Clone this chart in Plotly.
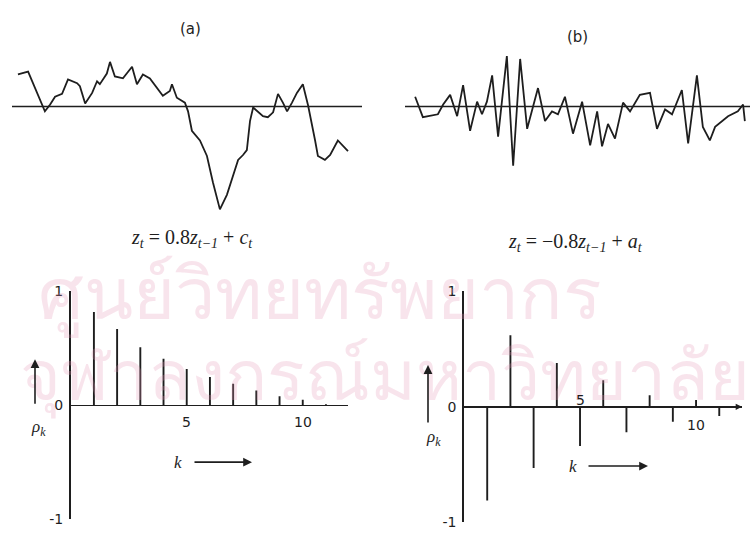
import plotly.graph_objects as go

W, H = 750, 541

# ---------------- data ----------------
# (a) z_t = 0.8 z_{t-1} + c_t : time index and value
t_a = [1.7, 4.6, 9.4, 10.9, 12.3, 14.3, 16.0, 18.6, 19.4, 20.9, 22.9, 24.3, 25.1, 27.1,
       28.0, 29.4, 31.7, 34.3, 35.7, 37.4, 39.4, 41.4, 43.1, 45.1, 45.7, 47.1, 49.4, 50.3,
       51.4, 53.7, 55.7, 57.4, 59.4, 61.4, 63.1, 64.6, 66.0, 67.1, 68.0, 68.9, 71.7, 73.1,
       74.6, 76.0, 77.4, 78.6, 80.0, 81.4, 83.1, 84.6, 86.6, 87.4, 89.4, 90.9, 93.1, 96.0]
z_a = [3.3, 3.6, -0.5, 0.2, 1.0, 1.3, 2.8, 2.4, 2.1, 0.3, 1.4, 2.6, 2.3, 3.4,
       4.6, 3.1, 2.9, 4.1, 2.3, 3.3, 2.9, 1.9, 1.1, 1.6, 2.3, 0.9, 0.4, -0.5,
       -2.5, -3.5, -5.1, -7.8, -10.6, -9.1, -7.1, -5.5, -5.0, -4.5, -1.5, -0.1, -1.0, -1.1,
       -0.6, 1.3, 0.4, -0.5, 0.4, 1.4, 2.3, 0.1, -3.5, -5.1, -5.5, -5.0, -3.5, -4.6]

# (b) z_t = -0.8 z_{t-1} + a_t
t_b = [2.9, 5.1, 9.4, 10.9, 12.9, 14.9, 16.6, 18.6, 20.6, 22.0, 23.4, 24.9, 26.6, 29.1,
       30.9, 32.9, 34.9, 38.0, 40.0, 42.0, 43.7, 45.7, 48.0, 50.6, 52.9, 54.9, 56.3, 58.0,
       60.0, 62.3, 64.3, 67.1, 70.0, 72.0, 74.3, 76.3, 79.1, 80.9, 83.4, 85.1, 87.1, 88.6,
       92.3, 95.1, 96.6, 97.1]
z_b = [1.0, -1.1, -0.8, 0.2, 1.2, -1.0, 2.2, -2.5, 0.5, -0.8, 0.5, 3.2, -3.1, 5.2,
       -6.1, 4.9, -2.3, 1.9, -1.5, -0.5, -0.8, 1.0, -2.8, 0.5, -4.0, -0.5, -4.1, -1.8,
       -3.3, 0.4, -0.5, 1.2, 1.4, -2.3, -0.3, -0.8, 1.7, -3.8, 3.2, -2.1, -3.5, -2.1,
       -1.0, -0.5, 0.2, -1.5]

# theoretical autocorrelations as drawn
lags = [1, 2, 3, 4, 5, 6, 7, 8, 9, 10, 11]
rho_a = [0.82, 0.67, 0.51, 0.41, 0.32, 0.25, 0.19, 0.13, 0.08, 0.05, 0.01]
rho_b = [-0.81, 0.62, -0.53, 0.38, -0.34, 0.23, -0.22, 0.10, -0.13, 0.06, -0.08]

y_ticks = [-1, 0, 1]
y_ticktext = ["-1", "0", "1"]
k_labels = [5, 10]

titles = ["(a)", "(b)"]
equations = ["<i>z<sub>t</sub></i> = 0.8<i>z<sub>t−1</sub></i> + <i>c<sub>t</sub></i>",
             "<i>z<sub>t</sub></i> = −0.8<i>z<sub>t−1</sub></i> + <i>a<sub>t</sub></i>"]
watermark = ["ศูนย์วิทยทรัพยากร", "จุฬาลงกรณ์มหาวิทยาลัย"]

# ---------------- helpers ----------------
def px(x):
    return x / W


def py(y):
    return 1 - y / H


INK = "#1e1e1e"
WM = "rgba(228,150,180,0.26)"
fig = go.Figure()


def note(text, x, y, size, family, color=INK, **kw):
    fig.add_annotation(text=text, x=px(x), y=py(y), xref="paper", yref="paper",
                       xanchor="center", yanchor="middle", showarrow=False,
                       font=dict(size=size, family=family, color=color), **kw)


# watermark (faint background text)
note(watermark[0], 320, 292, 72, "Noto Sans, DejaVu Sans", WM)
note(watermark[1], 385, 376, 70, "Noto Sans, DejaVu Sans", WM)

# time series
fig.add_trace(go.Scatter(x=t_a, y=z_a, mode="lines", line=dict(color=INK, width=1.8),
                         xaxis="x", yaxis="y", showlegend=False, hoverinfo="skip"))
fig.add_trace(go.Scatter(x=t_b, y=z_b, mode="lines", line=dict(color=INK, width=1.8),
                         xaxis="x2", yaxis="y2", showlegend=False, hoverinfo="skip"))


def stems(lag, rho):
    xs, ys = [], []
    for k, r in zip(lag, rho):
        xs += [k, k, None]
        ys += [0, r, None]
    return xs, ys


sx, sy = stems(lags, rho_a)
fig.add_trace(go.Scatter(x=sx, y=sy, mode="lines", line=dict(color=INK, width=1.9),
                         xaxis="x3", yaxis="y3", showlegend=False, hoverinfo="skip"))
sx, sy = stems(lags, rho_b)
fig.add_trace(go.Scatter(x=sx, y=sy, mode="lines", line=dict(color=INK, width=1.9),
                         xaxis="x4", yaxis="y4", showlegend=False, hoverinfo="skip"))

hidden = dict(visible=False, fixedrange=True)
ts_y = dict(visible=False, range=[-11.85, 7.15], zeroline=False, fixedrange=True)
acf_y = dict(range=[-1, 1], showgrid=False, zeroline=True, zerolinecolor=INK, zerolinewidth=1.7,
             showline=True, linecolor=INK, linewidth=1.7, ticks="inside", ticklen=5,
             tickwidth=1.7, tickcolor=INK, tickvals=y_ticks, ticktext=y_ticktext,
             ticklabelstandoff=3, fixedrange=True,
             tickfont=dict(family="DejaVu Sans", size=14, color=INK))

fig.update_layout(
    width=W, height=H, margin=dict(l=0, r=0, t=0, b=0),
    paper_bgcolor="white", plot_bgcolor="rgba(0,0,0,0)",
    xaxis=dict(hidden, domain=[px(12), px(362)], range=[0, 100]),
    yaxis=dict(ts_y, domain=[py(220), py(30)], anchor="x"),
    xaxis2=dict(hidden, domain=[px(405), 1.0], range=[0, 98.57]),
    yaxis2=dict(ts_y, domain=[py(220), py(30)], anchor="x2"),
    xaxis3=dict(hidden, domain=[px(70.7), px(348)], range=[0, 11.95]),
    yaxis3=dict(acf_y, domain=[py(527), py(292)], anchor="x3"),
    xaxis4=dict(hidden, domain=[px(464), px(742)], range=[0, 11.98]),
    yaxis4=dict(acf_y, domain=[py(530), py(292)], anchor="x4"),
)

# zero lines of the series
fig.add_shape(type="line", xref="x domain", yref="y", x0=0, x1=1, y0=0, y1=0,
              line=dict(color=INK, width=1.7))
fig.add_shape(type="line", xref="x2 domain", yref="y2", x0=0, x1=1, y0=0, y1=0,
              line=dict(color=INK, width=1.7))

# panel titles and equations
for txt, cx, cy in zip(titles, [190, 577], [22, 30]):
    note(txt, cx, cy, 15, "DejaVu Sans")
for txt, cx, cy in zip(equations, [192, 575], [238, 242]):
    note(txt, cx, cy, 20, "Liberation Serif")

# lag tick labels on the k axis
for xa, ya, ky in [("x3", "y3", -0.15), ("x4", "y4", 0.06)]:
    for k in k_labels:
        yy = ky if not (xa == "x4" and k == 10) else -0.16
        fig.add_annotation(text=str(k), x=k, y=yy, xref=xa, yref=ya, showarrow=False,
                           xanchor="center", yanchor="middle",
                           font=dict(family="DejaVu Sans", size=14, color=INK))

# rho_k labels and arrows
for cx, cy, ax0, ay_tail, ay_head in [(38, 433, 35, 408, 362), (433, 443, 428, 427, 368)]:
    note("<i>ρ<sub>k</sub></i>", cx, cy, 17, "Liberation Serif")
    fig.add_annotation(text="", x=px(ax0), y=py(ay_head), xref="paper", yref="paper",
                       ax=0, ay=ay_tail - ay_head, showarrow=True, arrowhead=2, arrowsize=1.1,
                       arrowwidth=1.6, arrowcolor=INK)

# k labels and arrows
for kx, ky, x0, x1 in [(178, 468, 193, 252), (573, 472, 587, 648)]:
    note("<i>k</i>", kx, ky, 17, "Liberation Serif")
    fig.add_annotation(text="", x=px(x1), y=py(ky), xref="paper", yref="paper",
                       ax=-(x1 - x0), ay=0, showarrow=True, arrowhead=2, arrowsize=1.1,
                       arrowwidth=1.6, arrowcolor=INK)

# arrow tip at end of the k axis in (b)
fig.add_annotation(text="", x=11.98, y=0, xref="x4", yref="y4", ax=-6, ay=0,
                   showarrow=True, arrowhead=2, arrowsize=0.9, arrowwidth=1.4, arrowcolor=INK)

fig.write_html("out.html", config={"displayModeBar": False, "staticPlot": True},
               post_script="document.body.style.margin='0';document.body.style.overflow='hidden';")
